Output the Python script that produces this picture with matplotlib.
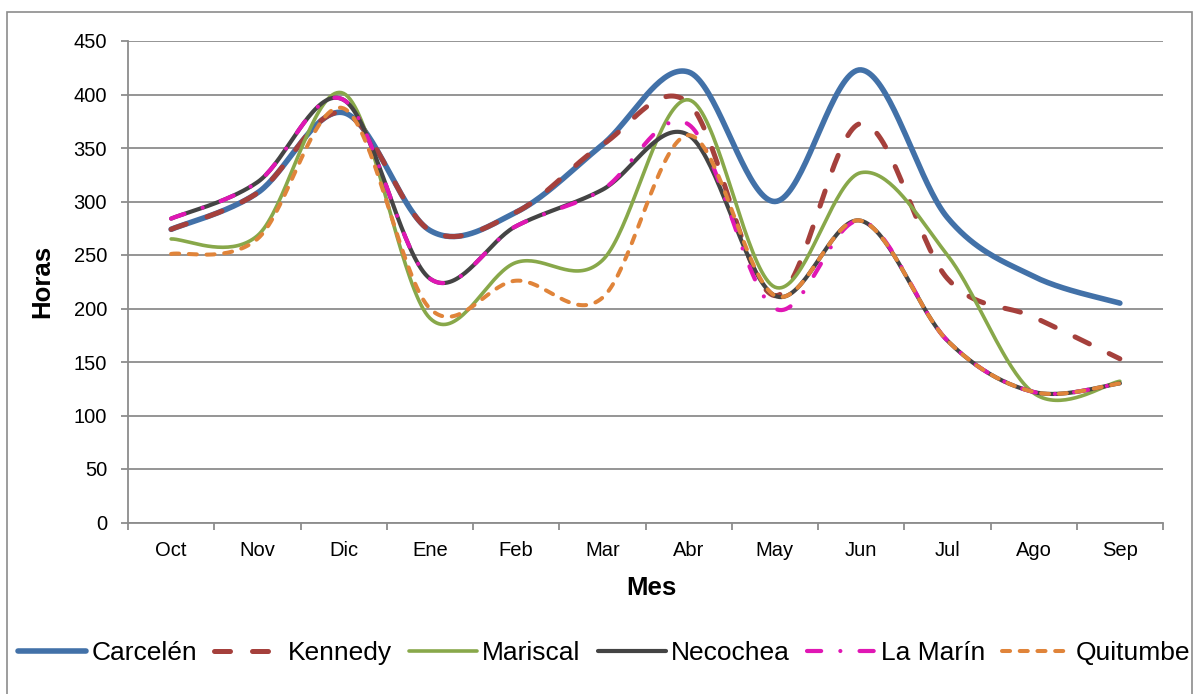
#!/usr/bin/python
import numpy as np
import matplotlib
matplotlib.use("Agg")
import matplotlib.pyplot as plt
from matplotlib.patches import Rectangle

plt.rcParams['font.family'] = ['Liberation Sans', 'DejaVu Sans']

meses = ['Oct', 'Nov', 'Dic', 'Ene', 'Feb', 'Mar', 'Abr', 'May', 'Jun', 'Jul', 'Ago', 'Sep']

carcelen = [274, 308, 383, 273, 290, 353, 421, 300, 423, 285, 230, 205]
kennedy = [274, 308, 383, 273, 290, 353, 392, 212, 373, 228, 192, 153]
mariscal = [265, 268, 401, 191, 243, 245, 395, 220, 327, 250, 121, 132]
necochea = [284, 318, 395, 228, 277, 311, 362, 212, 282, 170, 122, 130]
la_marin = [284, 318, 395, 228, 277, 311, 372, 200, 282, 170, 122, 130]
quitumbe = [251, 265, 387, 200, 226, 210, 362, 212, 282, 170, 122, 130]

y_ticks = [0, 50, 100, 150, 200, 250, 300, 350, 400, 450]


def smooth(values, n=40):
    """ Smoothed line through the points, bezier segments with
        control points at 1/6 of the neighbour difference.
    """
    y = np.asarray(values, dtype=float)
    x = np.arange(len(y), dtype=float)
    yp = np.concatenate([[y[0]], y, [y[-1]]])
    xp = np.concatenate([[x[0]], x, [x[-1]]])
    t = np.linspace(0, 1, n)[:, None]
    xs, ys = [], []
    for i in range(len(y) - 1):
        p0 = np.array([x[i], y[i]])
        p3 = np.array([x[i + 1], y[i + 1]])
        p1 = p0 + (np.array([xp[i + 2], yp[i + 2]]) - np.array([xp[i], yp[i]])) / 6.0
        p2 = p3 - (np.array([xp[i + 3], yp[i + 3]]) - np.array([xp[i + 1], yp[i + 1]])) / 6.0
        b = ((1 - t) ** 3) * p0 + 3 * ((1 - t) ** 2) * t * p1 + 3 * (1 - t) * t ** 2 * p2 + t ** 3 * p3
        xs.append(b[:, 0])
        ys.append(b[:, 1])
    return np.concatenate(xs), np.concatenate(ys)


series = [
    ('Carcelén', carcelen, dict(color='#4271A8', lw=4.0, linestyle='-')),
    ('Kennedy', kennedy, dict(color='#A5403C', lw=3.6, linestyle=(0, (3.2, 4.4)))),
    ('Mariscal', mariscal, dict(color='#88A84A', lw=2.6, linestyle='-')),
    ('Necochea', necochea, dict(color='#444444', lw=3.0, linestyle='-')),
    ('La Marín', la_marin, dict(color='#E017B4', lw=3.0, linestyle=(0, (3.4, 4.6, 0.01, 4.6)))),
    ('Quitumbe', quitumbe, dict(color='#E0843A', lw=2.9, linestyle=(0, (2.0, 2.4)))),
]

fig = plt.figure(figsize=(11.93, 6.94), dpi=100)
ax = fig.add_axes([128 / 1193, 1 - 522.5 / 694, (1163 - 128) / 1193, (522.5 - 41) / 694])

for name, vals, style in series:
    xs, ys = smooth(vals)
    ax.plot(xs, ys, label=name, dash_capstyle='round', solid_capstyle='round', **style)

ax.set_xlim(-0.5, len(meses) - 0.5)
ax.set_ylim(0, 450)
ax.set_yticks(y_ticks)
ax.yaxis.grid(True, color='#8C8C8C', lw=1.3)
ax.set_axisbelow(True)

ax.set_xticks(np.arange(len(meses) + 1) - 0.5)
ax.set_xticklabels([])
ax.set_xticks(np.arange(len(meses)), minor=True)
ax.set_xticklabels(meses, minor=True)
ax.tick_params(axis='x', which='major', length=5, width=1.3, color='#8C8C8C', direction='out')
ax.tick_params(axis='x', which='minor', length=0, pad=13, labelsize=14.5)
ax.tick_params(axis='y', length=5, width=1.3, color='#8C8C8C', direction='out', pad=10, labelsize=14.5)

for side in ['top', 'right']:
    ax.spines[side].set_visible(False)
for side in ['left', 'bottom']:
    ax.spines[side].set_color('#8C8C8C')
    ax.spines[side].set_linewidth(1.3)

fig.text(42 / 1193, 1 - 281 / 694, 'Horas', rotation=90, ha='center', va='center',
         fontsize=18.5, fontweight='bold')
fig.text(651 / 1193, 1 - 588 / 694, 'Mes', ha='center', va='center',
         fontsize=18.5, fontweight='bold')

fig.legend(loc='center', bbox_to_anchor=(604 / 1193, 1 - 653 / 694), ncol=6, frameon=False,
           fontsize=19, handlelength=2.58, handletextpad=0.2, columnspacing=0.65,
           borderpad=0, borderaxespad=0)

fig.patches.append(Rectangle((7 / 1193, -0.02), (1192 - 7) / 1193, 1 - 12 / 694 + 0.02,
                             transform=fig.transFigure, fill=False, edgecolor='#8C8C8C', lw=1.2))

plt.savefig('out.png', dpi=100)
